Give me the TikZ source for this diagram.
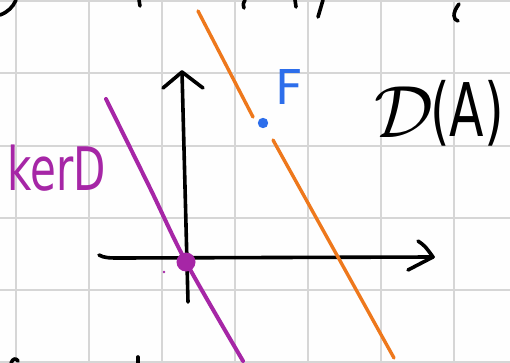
\documentclass[tikz,border=0pt]{standalone}
\usepackage{fontspec}
\setsansfont{DejaVu Sans}
\usetikzlibrary{calc}
\definecolor{gridc}{RGB}{214,214,214}
\definecolor{kerc}{RGB}{166,38,166}
\definecolor{orng}{RGB}{238,120,28}
\definecolor{blu}{RGB}{45,110,235}
\tikzset{
  gridline/.style={gridc, line width=1.4pt},
  ink/.style={black, line width=3.6pt, line cap=round, line join=round},
  purpleline/.style={kerc, line width=4pt, line cap=round},
  orangeline/.style={orng, line width=3.4pt, line cap=round},
  hand/.style={inner sep=0pt, outer sep=0pt, font=\sffamily}
}
\begin{document}
\begin{tikzpicture}[x=1pt,y=-1pt]
\fill[white!99!gray] (0,0) rectangle (510,363);
\useasboundingbox (0,0) rectangle (510,363);
% grid
\foreach \gx in {16,89,162,235,308,381,454} \draw[gridline] (\gx,0) -- (\gx,363);
\foreach \gy in {1,73,146,218,290,362} \draw[gridline] (0,\gy) -- (510,\gy);
% cut-off strokes at top and bottom
\draw[ink] (0,15) .. controls (8,12) and (13,7) .. (16,0);
\draw[ink] (139,0) -- (140,6);
\draw[ink] (245,0) .. controls (243,4) .. (244,8);
\draw[ink] (295,0) -- (296,7);
\draw[ink] (323,0) -- (318,17);
\draw[ink] (459,4) .. controls (452,13) and (453,20) .. (458,21);
\draw[ink] (11,363) .. controls (13,358) and (16,358) .. (18,361);
\draw[ink] (138,357) -- (138,363);
% axes
\coordinate (ytop) at (182,72);
\coordinate (ybot) at (188,302);
\draw[ink] (ybot) -- (ytop);
\draw[ink] (163,88) -- (ytop) -- (203,88);
\coordinate (xl) at (99,255);
\coordinate (xr) at (433,257);
\draw[ink] (xl) .. controls (104,258) and (110,258) .. (120,258) -- (xr);
\draw[ink] (418,241) .. controls (425,246) .. (xr) -- (408,270);
% kernel line
\draw[purpleline] plot[smooth] coordinates {(106,99) (150,188) (186,262) (243,361)};
\fill[kerc] (186,262) circle (9.5);
\fill[kerc] (164,272) circle (1.4);
% orange line
\draw[orangeline] (198,11) -- (253,117);
\draw[orangeline] (273,140) -- (394,358);
% point F
\fill[blu] (263,123) circle (5.2);
\node[hand, anchor=base west, text=blu, font=\sffamily\fontsize{48}{48}\selectfont] (F) at (275,105) {F};
% labels
\node[hand, anchor=base west, text=kerc, font=\sffamily\fontsize{60}{60}\selectfont] (ker) at (8,190) {\scalebox{0.7}[1]{kerD}};
\node[hand, anchor=base west] (Dcal) at (374,138) {\scalebox{7.4}{$\mathcal{D}$}};
\node[hand, anchor=base west, font=\sffamily\fontsize{74}{74}\selectfont] (A) at (430,137) {\scalebox{0.68}[1]{(A)}};
\end{tikzpicture}
\end{document}
